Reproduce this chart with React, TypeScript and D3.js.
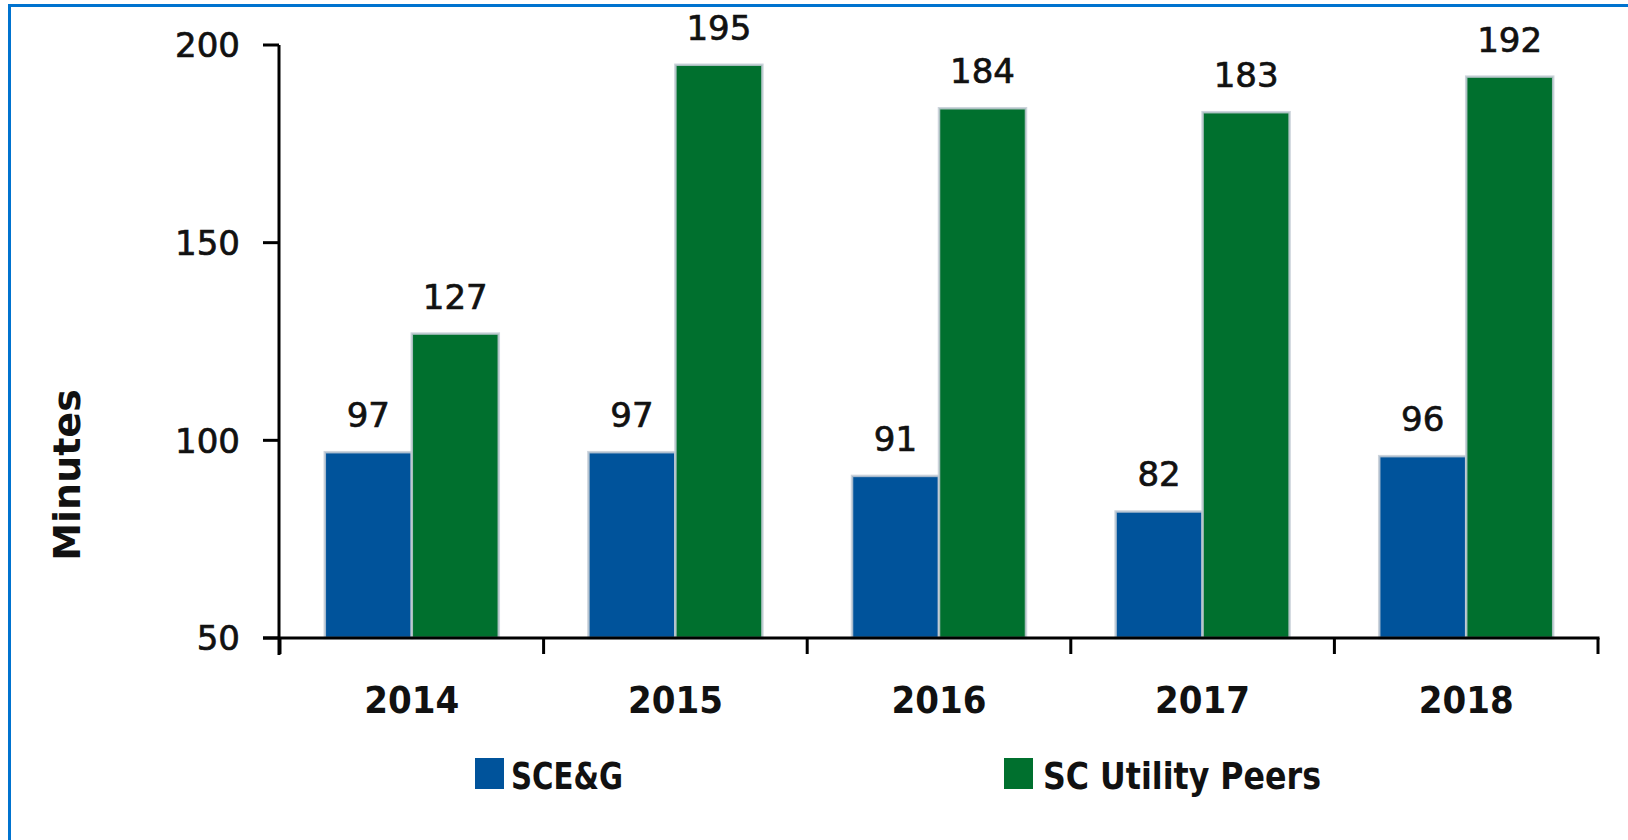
import React from "react";
import * as d3 from "d3";

const years = ["2014", "2015", "2016", "2017", "2018"];
const sceg = [97, 97, 91, 82, 96];
const peers = [127, 195, 184, 183, 192];
const yTicks = [50, 100, 150, 200];
const seriesNames = ["SCE&G", "SC Utility Peers"];
const colors = ["#00539b", "#00702e"];

const W = 1628;
const H = 840;
const font = "'DejaVu Sans', Verdana, sans-serif";

const App = () => {
  // ejes
  const x = d3.scaleBand<string>().domain(years).range([280, 1598]).padding(0);
  const y = d3.scaleLinear().domain([50, 200]).range([638, 45]);
  const bw = x.bandwidth() * 0.33;
  const gap = (x.bandwidth() - 2 * bw) / 2;

  const series = [sceg, peers];

  return (
    <svg
      width={W}
      height={H}
      style={{ position: "absolute", left: 0, top: 0, background: "#fff" }}
    >
      {/* marco */}
      <line x1={9.5} y1={5.5} x2={W} y2={5.5} stroke="#0073cf" strokeWidth={3} />
      <line x1={9.5} y1={4} x2={9.5} y2={H} stroke="#0073cf" strokeWidth={3} />

      {/* barras */}
      {series.map((vals, si) =>
        vals.map((v, i) => {
          const bx = (x(years[i]) as number) + gap + si * bw;
          return (
            <g key={`${si}-${i}`}>
              <rect
                x={bx}
                y={y(v)}
                width={bw}
                height={y(50) - y(v)}
                fill={colors[si]}
                stroke="#c4ccd6"
                strokeOpacity={0.85}
                strokeWidth={2.5}
              />
              <text
                x={bx + bw / 2}
                y={y(v) - 25}
                textAnchor="middle"
                fontFamily={font}
                fontSize={34}
                fill="#111"
                stroke="#111"
                strokeWidth={0.7}
              >
                {v}
              </text>
            </g>
          );
        })
      )}

      {/* eje y */}
      <line x1={279} y1={y(200)} x2={279} y2={655} stroke="#000" strokeWidth={3} />
      {yTicks.map((t) => (
        <g key={t}>
          <line x1={263} y1={y(t)} x2={279} y2={y(t)} stroke="#000" strokeWidth={3} />
          <text
            x={240}
            y={y(t)}
            dy="0.36em"
            textAnchor="end"
            fontFamily={font}
            fontSize={34}
            fill="#111"
            stroke="#111"
            strokeWidth={0.7}
          >
            {t}
          </text>
        </g>
      ))}
      <text
        transform={`translate(80, 475) rotate(-90)`}
        textAnchor="middle"
        fontFamily={font}
        fontWeight="bold"
        fontSize={38}
        fill="#111"
      >
        Minutes
      </text>

      {/* eje x */}
      <line x1={263} y1={y(50)} x2={1599.5} y2={y(50)} stroke="#000" strokeWidth={3} />
      {[...years.map((d) => x(d) as number), 1598].map((px, i) => (
        <line key={i} x1={px} y1={y(50)} x2={px} y2={654} stroke="#000" strokeWidth={3} />
      ))}
      {years.map((d) => (
        <text
          key={d}
          x={(x(d) as number) + x.bandwidth() / 2}
          y={713}
          textAnchor="middle"
          fontFamily={font}
          fontWeight="bold"
          fontSize={38}
          textLength={95}
          lengthAdjust="spacingAndGlyphs"
          fill="#111"
        >
          {d}
        </text>
      ))}

      {/* leyenda */}
      {[
        { sx: 475, tx: 511, len: 112 },
        { sx: 1004, tx: 1043, len: 278 },
      ].map((l, i) => (
        <g key={i}>
          <rect x={l.sx} y={758} width={29} height={31} fill={colors[i]} />
          <text
            x={l.tx}
            y={789}
            fontFamily={font}
            fontWeight="bold"
            fontSize={38}
            textLength={l.len}
            lengthAdjust="spacingAndGlyphs"
            fill="#111"
          >
            {seriesNames[i]}
          </text>
        </g>
      ))}
    </svg>
  );
};

export default App;
